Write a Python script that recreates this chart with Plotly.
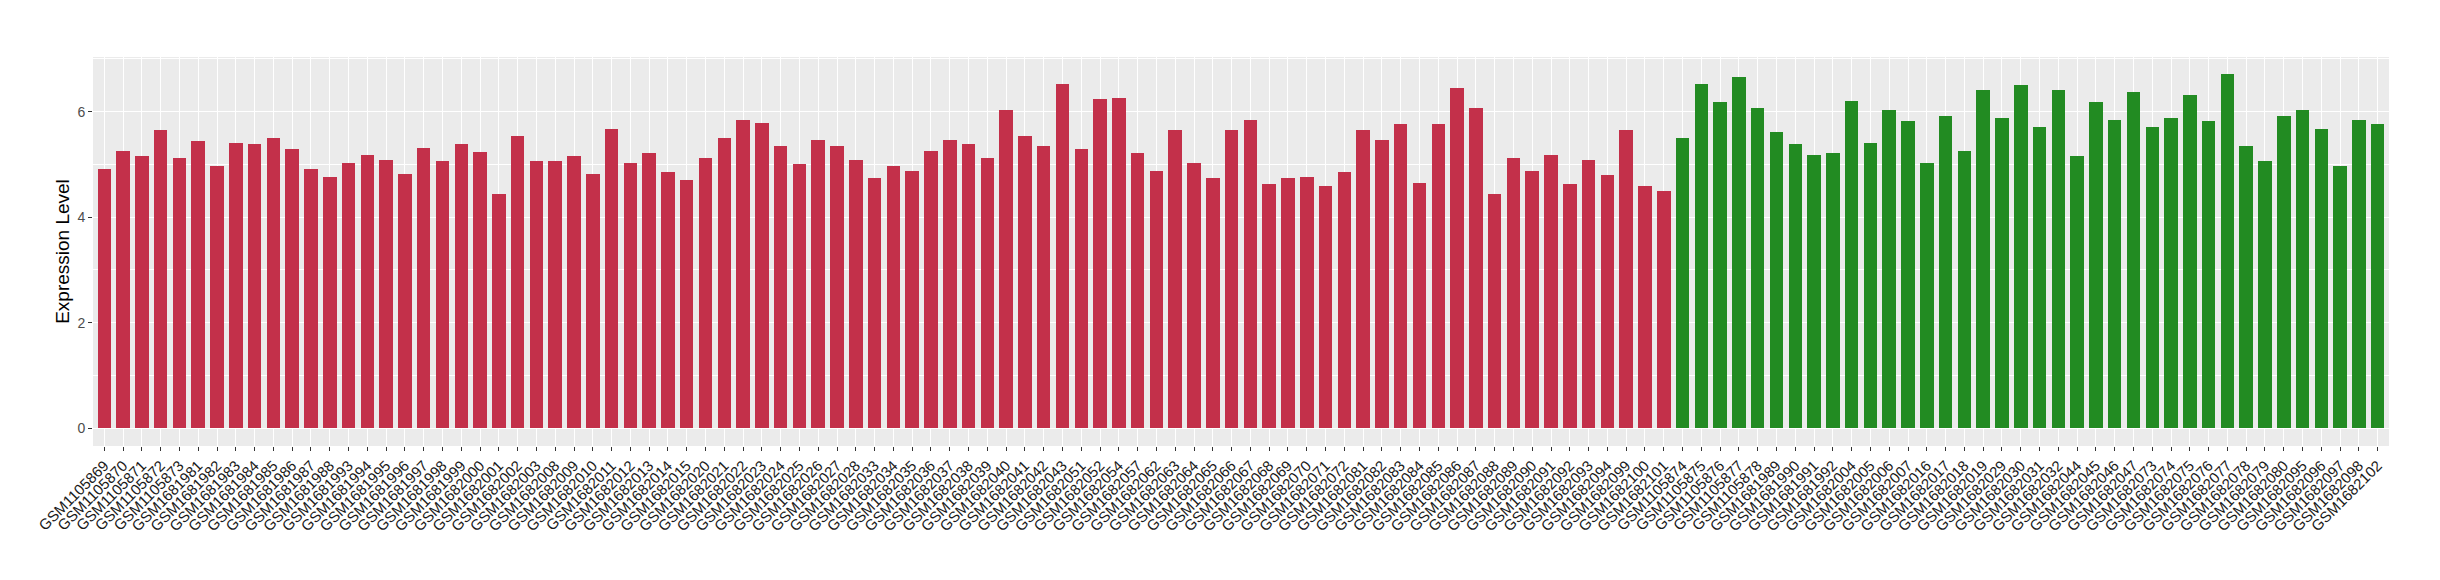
import plotly.graph_objects as go

red_samples = [
    "GSM1105869", "GSM1105870", "GSM1105871", "GSM1105872", "GSM1105873",
    "GSM1681981", "GSM1681982", "GSM1681983", "GSM1681984", "GSM1681985",
    "GSM1681986", "GSM1681987", "GSM1681988", "GSM1681993", "GSM1681994",
    "GSM1681995", "GSM1681996", "GSM1681997", "GSM1681998", "GSM1681999",
    "GSM1682000", "GSM1682001", "GSM1682002", "GSM1682003", "GSM1682008",
    "GSM1682009", "GSM1682010", "GSM1682011", "GSM1682012", "GSM1682013",
    "GSM1682014", "GSM1682015", "GSM1682020", "GSM1682021", "GSM1682022",
    "GSM1682023", "GSM1682024", "GSM1682025", "GSM1682026", "GSM1682027",
    "GSM1682028", "GSM1682033", "GSM1682034", "GSM1682035", "GSM1682036",
    "GSM1682037", "GSM1682038", "GSM1682039", "GSM1682040", "GSM1682041",
    "GSM1682042", "GSM1682043", "GSM1682051", "GSM1682052", "GSM1682054",
    "GSM1682057", "GSM1682062", "GSM1682063", "GSM1682064", "GSM1682065",
    "GSM1682066", "GSM1682067", "GSM1682068", "GSM1682069", "GSM1682070",
    "GSM1682071", "GSM1682072", "GSM1682081", "GSM1682082", "GSM1682083",
    "GSM1682084", "GSM1682085", "GSM1682086", "GSM1682087", "GSM1682088",
    "GSM1682089", "GSM1682090", "GSM1682091", "GSM1682092", "GSM1682093",
    "GSM1682094", "GSM1682099", "GSM1682100", "GSM1682101",
]
red_values = [
    4.91, 5.26, 5.15, 5.65, 5.12, 5.44, 4.97, 5.41, 5.38, 5.50,
    5.29, 4.91, 4.76, 5.03, 5.18, 5.09, 4.82, 5.32, 5.06, 5.38,
    5.24, 4.44, 5.53, 5.06, 5.06, 5.15, 4.82, 5.68, 5.03, 5.21,
    4.85, 4.71, 5.12, 5.50, 5.85, 5.79, 5.35, 5.00, 5.47, 5.35,
    5.09, 4.74, 4.97, 4.88, 5.26, 5.47, 5.38, 5.12, 6.03, 5.53,
    5.35, 6.53, 5.29, 6.24, 6.26, 5.21, 4.88, 5.65, 5.03, 4.74,
    5.65, 5.85, 4.62, 4.74, 4.76, 4.59, 4.85, 5.65, 5.47, 5.76,
    4.65, 5.76, 6.44, 6.06, 4.44, 5.12, 4.88, 5.18, 4.62, 5.09,
    4.79, 5.65, 4.59, 4.50,
]
green_samples = [
    "GSM1105874", "GSM1105875", "GSM1105876", "GSM1105877", "GSM1105878",
    "GSM1681989", "GSM1681990", "GSM1681991", "GSM1681992", "GSM1682004",
    "GSM1682005", "GSM1682006", "GSM1682007", "GSM1682016", "GSM1682017",
    "GSM1682018", "GSM1682019", "GSM1682029", "GSM1682030", "GSM1682031",
    "GSM1682032", "GSM1682044", "GSM1682045", "GSM1682046", "GSM1682047",
    "GSM1682073", "GSM1682074", "GSM1682075", "GSM1682076", "GSM1682077",
    "GSM1682078", "GSM1682079", "GSM1682080", "GSM1682095", "GSM1682096",
    "GSM1682097", "GSM1682098", "GSM1682102",
]
green_values = [
    5.50, 6.53, 6.18, 6.65, 6.06, 5.62, 5.38, 5.18, 5.21, 6.21,
    5.41, 6.03, 5.82, 5.03, 5.91, 5.26, 6.41, 5.88, 6.50, 5.71,
    6.41, 5.15, 6.18, 5.85, 6.38, 5.71, 5.88, 6.32, 5.82, 6.71,
    5.35, 5.06, 5.91, 6.03, 5.68, 4.97, 5.85, 5.76,
]
y_ticks = [0, 2, 4, 6]
y_title = "Expression Level"

RED = "#C3304A"
GREEN = "#228B22"
all_samples = red_samples + green_samples

fig = go.Figure()
fig.add_trace(go.Bar(x=red_samples, y=red_values, marker=dict(color=RED, line=dict(width=0)),
                     width=0.72, showlegend=False))
fig.add_trace(go.Bar(x=green_samples, y=green_values, marker=dict(color=GREEN, line=dict(width=0)),
                     width=0.72, showlegend=False))

fig.update_layout(
    width=2424, height=564,
    margin=dict(l=85, r=43, t=49, b=126),
    paper_bgcolor="white", plot_bgcolor="#EBEBEB",
    font=dict(family="Liberation Sans, Arial, sans-serif", color="#1A1A1A"),
    bargap=0,
    xaxis=dict(
        type="category", categoryorder="array", categoryarray=all_samples,
        range=[-0.6, len(all_samples) - 0.4], automargin=False,
        showgrid=True, gridcolor="white", gridwidth=1.1,
        tickangle=-45, tickfont=dict(size=15, color="#1A1A1A"),
        ticks="outside", ticklen=4, tickcolor="#333333", tickwidth=1,
        showline=False, zeroline=False,
    ),
    yaxis=dict(
        range=[-0.335, 7.035], tickvals=y_ticks, automargin=False,
        showgrid=True, gridcolor="white", gridwidth=1.1,
        minor=dict(dtick=1, showgrid=True, gridcolor="white", gridwidth=0.5),
        tickfont=dict(size=14, color="#4D4D4D"),
        ticks="outside", ticklen=4, tickcolor="#333333", tickwidth=1,
        zeroline=False, showline=False,
        title=dict(text=y_title, font=dict(size=19, color="#000000"), standoff=2),
    ),
)

fig.write_html("out.html")
